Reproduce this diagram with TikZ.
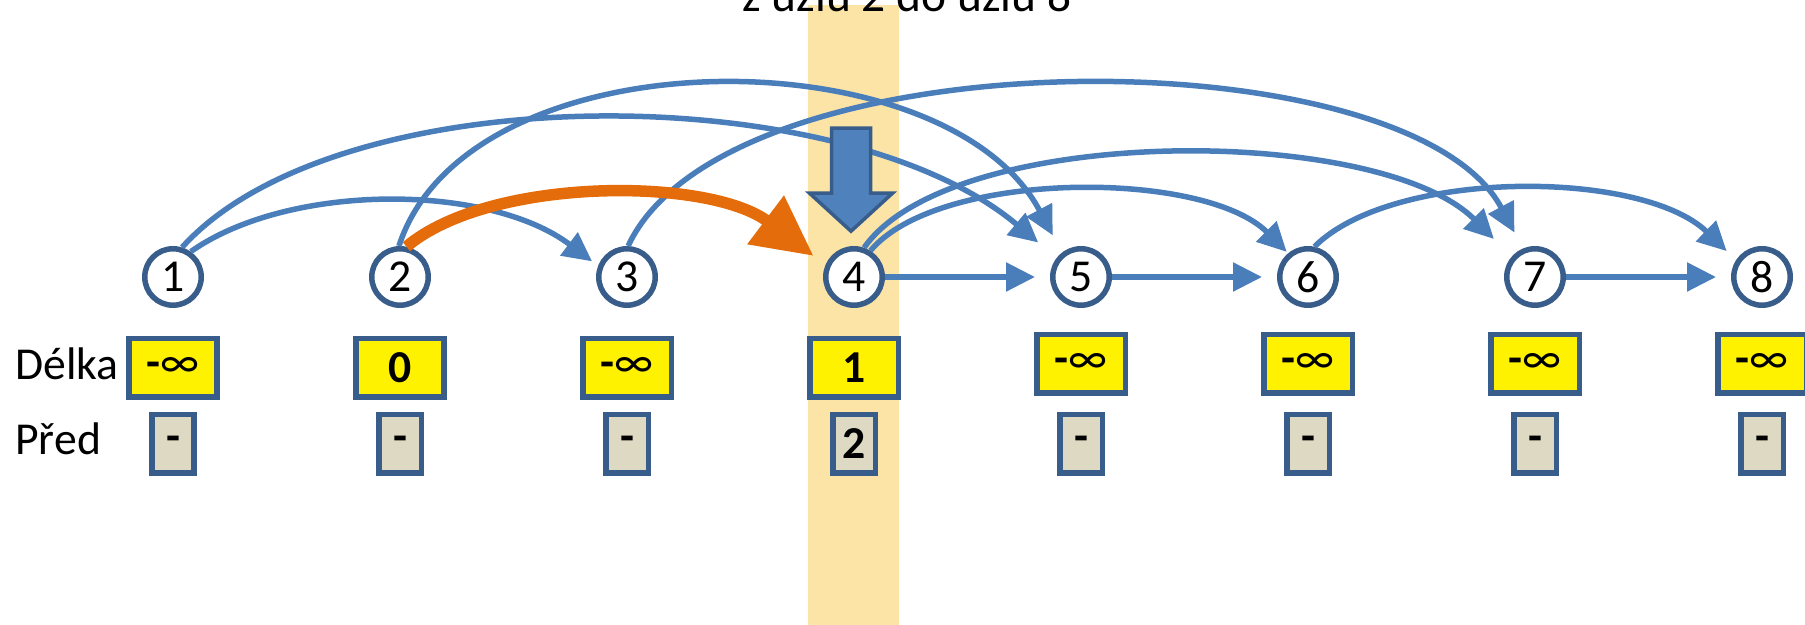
\documentclass[tikz,border=0pt]{standalone}
\usepackage{fontspec}
\setmainfont{Carlito}
\usetikzlibrary{positioning, arrows.meta}
\definecolor{edgeblue}{RGB}{74,126,187}
\definecolor{darkblue}{RGB}{56,93,138}
\definecolor{arrowblue}{RGB}{79,129,189}
\definecolor{pathorange}{RGB}{228,108,10}
\definecolor{bandorange}{RGB}{252,228,166}
\definecolor{predgray}{RGB}{221,217,195}

\begin{document}
\begin{tikzpicture}[x=0.02cm, y=0.02cm,
    uzel/.style={circle, draw=darkblue, line width=0.11cm, fill=white, minimum size=1.13cm, inner sep=0pt, font=\fontsize{26}{30}\selectfont},
    delka/.style={draw=darkblue, line width=0.11cm, fill=yellow, minimum width=1.77cm, minimum height=1.17cm, inner sep=0pt, font=\fontsize{26}{30}\selectfont\bfseries},
    pred/.style={draw=darkblue, line width=0.11cm, fill=predgray, minimum width=0.85cm, minimum height=1.17cm, inner sep=0pt, font=\fontsize{26}{30}\selectfont\bfseries},
    hrana/.style={draw=edgeblue, line width=0.11cm, -{Triangle[length=0.58cm, width=0.56cm]}},
    cesta/.style={draw=pathorange, line width=0.23cm, -{Triangle[length=1.2cm, width=1.16cm]}},
    popis/.style={font=\fontsize{26}{30}\selectfont, anchor=base west, inner sep=0pt}]
    \useasboundingbox (0,0) rectangle (1805,625);
    \clip (0,0) rectangle (1805,625);
    \fill[bandorange] (808,0) rectangle (899,620);
    \node[font=\fontsize{27}{32}\selectfont, anchor=base, inner sep=0pt] (Title) at (907,613) {z uzlu 2 do uzlu 8};

    \node[uzel] (N1) at (173,348) {1};
    \node[uzel] (N2) at (400,348) {2};
    \node[uzel] (N3) at (627,348) {3};
    \node[uzel] (N4) at (854,348) {4};
    \node[uzel] (N5) at (1081,348) {5};
    \node[uzel] (N6) at (1308,348) {6};
    \node[uzel] (N7) at (1535,348) {7};
    \node[uzel] (N8) at (1762,348) {8};

    \node[popis] (Delka) at (15,245.7) {Délka};
    \node[popis] (Pred) at (15,170) {Před};

    \node[delka] (D1) at (173,257) {-{\mdseries∞}};
    \node[delka] (D2) at (400,257) {0};
    \node[delka] (D3) at (627,257) {-{\mdseries∞}};
    \node[delka] (D4) at (854,257) {1};
    \node[delka] (D5) at (1081,261) {-{\mdseries∞}};
    \node[delka] (D6) at (1308,261) {-{\mdseries∞}};
    \node[delka] (D7) at (1535,261) {-{\mdseries∞}};
    \node[delka] (D8) at (1762,261) {-{\mdseries∞}};

    \node[pred] (P1) at (173,181.3) {-};
    \node[pred] (P2) at (400,181.3) {-};
    \node[pred] (P3) at (627,181.3) {-};
    \node[pred] (P4) at (854,181.3) {2};
    \node[pred] (P5) at (1081,181.3) {-};
    \node[pred] (P6) at (1308,181.3) {-};
    \node[pred] (P7) at (1535,181.3) {-};
    \node[pred] (P8) at (1762,181.3) {-};

    \draw[hrana, shorten >=0.3cm] (N4.east) -- (N5.west);
    \draw[hrana, shorten >=0.3cm] (N5.east) -- (N6.west);
    \draw[hrana, shorten >=0.3cm] (N7.east) -- (N8.west);

    \draw[hrana, shorten >=0.15cm] (N1.55) .. controls +(98,69) and +(-110,83) .. (N3.159);
    \draw[hrana, shorten >=0.48cm] (N1.73) .. controls +(154,171) and +(-217,182) .. (N5.142);
    \draw[hrana, shorten >=0.39cm] (N2.92) .. controls +(69,213) and +(-117,220) .. (N5.128);
    \draw[hrana, shorten >=0.36cm] (N3.88) .. controls +(99,213) and +(-114,215) .. (N7.113);
    \draw[hrana, shorten >=0.04cm] (N4.58) .. controls +(68,81) and +(-84,84) .. (N6.130);
    \draw[hrana, shorten >=0.5cm] (N4.71) .. controls +(87,124) and +(-133,133) .. (N7.139);
    \draw[hrana, shorten >=0.26cm] (N6.78) .. controls +(78,78) and +(-94,91) .. (N8.147);
    \draw[cesta, shorten >=0.3cm] (N2.78) .. controls +(83,70) and +(-117,88) .. (N4.157);

    \draw[fill=arrowblue, draw=darkblue, line width=0.07cm] (831.5,496.8) -- (870.5,496.8) -- (870.5,431.8) -- (892.5,431.8) -- (851,393.8) -- (809.5,431.8) -- (831.5,431.8) -- cycle;
\end{tikzpicture}
\end{document}
